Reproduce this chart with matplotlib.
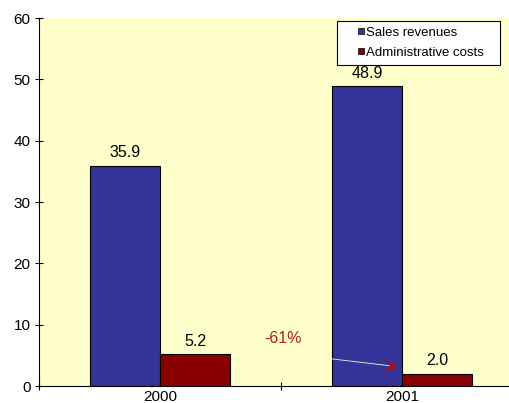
import numpy as np
import matplotlib
matplotlib.use('Agg')
import matplotlib.pyplot as plt
from matplotlib.lines import Line2D
from matplotlib.path import Path
from matplotlib.transforms import Affine2D

# data
years = ['2000', '2001']
sales = [35.9, 48.9]
admin = [5.2, 2.0]
change_label = '-61%'

plt.rcParams['font.family'] = ['Liberation Sans', 'DejaVu Sans']

fig = plt.figure(figsize=(5.10, 4.03), dpi=100)
ax = fig.add_axes([39/510, 17/403, 471/510, 368/403])
ax.set_facecolor('#FFFFCC')

x = np.arange(len(years))
w = 0.29
b1 = ax.bar(x - w/2, sales, w, color='#333399', edgecolor='black', linewidth=0.8, label='Sales revenues')
b2 = ax.bar(x + w/2, admin, w, color='#880000', edgecolor='black', linewidth=0.8, label='Administrative costs')

for bars, vals in ((b1, sales), (b2, admin)):
    for r, v in zip(bars, vals):
        ax.annotate('%.1f' % v, (r.get_x() + r.get_width()/2, v), xytext=(0, 4),
                    textcoords='offset points', ha='center', va='bottom', fontsize=11.5)

# faint arrow line between the admin bars, with a barbed head
ax.plot([0.285, 0.95], [6.4, 3.3], color='#FAF7CF', lw=0.6, zorder=1)
head = Path([(-1, 1), (1, 0), (-1, -1), (-0.3, 0), (-1, 1)],
            [Path.MOVETO, Path.LINETO, Path.LINETO, Path.LINETO, Path.CLOSEPOLY])
head = head.transformed(Affine2D().rotate_deg(-10))
ax.plot([0.955], [3.25], ls='none', marker=head, markersize=11,
        color='#AA1111', markeredgewidth=0)
ax.text(0.51, 7.8, change_label, color='#AA2222', fontsize=11.5, ha='center', va='center')

ax.set_yticks(range(0, 61, 10))
ax.set_xticks(x)
ax.set_xticklabels(years)
ax.set_xticks([-0.5, 0.5, 1.5], minor=True)
ax.set_ylim(0, 60)
ax.set_xlim(-0.5, 1.446)
ax.tick_params(axis='x', which='major', length=0, labelsize=11, pad=3)
ax.tick_params(axis='x', which='minor', direction='inout', length=6, width=0.8)
ax.tick_params(axis='y', direction='inout', length=6, width=0.8, labelsize=11, pad=3)
ax.spines['top'].set_visible(False)
ax.spines['right'].set_visible(False)
for s in ('left', 'bottom'):
    ax.spines[s].set_linewidth(0.8)

handles = [Line2D([], [], ls='none', marker='s', markersize=5, markerfacecolor='#333399', markeredgecolor='black', markeredgewidth=0.5),
           Line2D([], [], ls='none', marker='s', markersize=5, markerfacecolor='#880000', markeredgecolor='black', markeredgewidth=0.5)]
leg = ax.legend(handles, ['Sales revenues', 'Administrative costs'], loc='upper left',
                bbox_to_anchor=(0.633, 0.992, 0.346, 0.0), mode='expand',
                fontsize=9.5, frameon=True, fancybox=False, handlelength=2.7,
                handletextpad=-1.0, borderpad=0.45, labelspacing=0.55, borderaxespad=0)
leg.get_frame().set_edgecolor('black')
leg.get_frame().set_linewidth(0.8)
leg.get_frame().set_facecolor('white')
leg.get_frame().set_alpha(1)

fig.savefig('out.png', dpi=100)
